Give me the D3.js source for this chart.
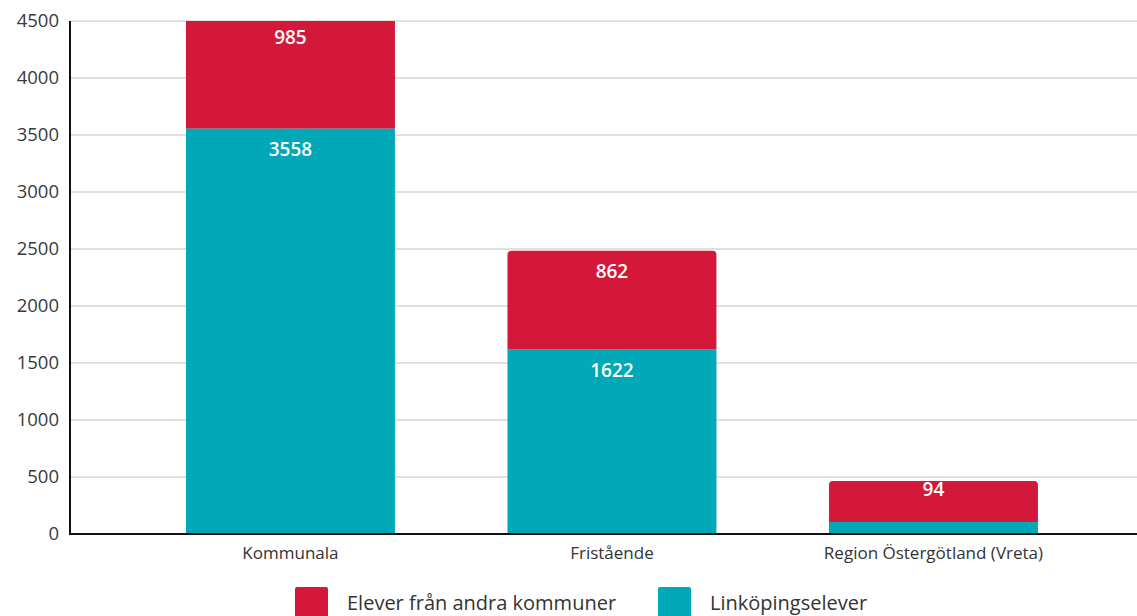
<!DOCTYPE html>
<html><head><meta charset="utf-8">
<script src="https://cdn.jsdelivr.net/npm/d3@7"></script>
<style>body{margin:0;background:#fff}svg{display:block}</style>
</head><body><svg id="c" width="1137" height="616"></svg>
<script>
const categories = ["Kommunala", "Fristående", "Region Östergötland (Vreta)"];
const linkopingselever = [3558, 1622, 105];
const andraKommuner = [985, 862, 360];
const linkopingLabels = ["3558", "1622", ""];
const andraLabels = ["985", "862", "94"];
const yTicks = [0, 500, 1000, 1500, 2000, 2500, 3000, 3500, 4000, 4500];
const seriesNames = ["Elever från andra kommuner", "Linköpingselever"];
const colors = {red: "#d4183a", teal: "#00a8b8"};

const svg = d3.select("#c");
const font = "'Open Sans', 'Noto Sans', sans-serif";
const y = d3.scaleLinear().domain([0, 4500]).range([534, 21]);
const x = d3.scaleBand().domain(categories).range([129.7, 1094.2]).paddingInner(0.35).paddingOuter(0.175);

svg.append("defs").append("clipPath").attr("id","plot")
  .append("rect").attr("x",70).attr("y",21).attr("width",1067).attr("height",513);

// gridlines
svg.append("g").selectAll("line").data(yTicks.filter(d=>d>0)).join("line")
  .attr("x1",71).attr("x2",1137).attr("y1",d=>y(d)).attr("y2",d=>y(d))
  .attr("stroke","#d6d6d6").attr("stroke-width",1.5);

// y tick labels
svg.append("g").selectAll("text").data(yTicks).join("text")
  .attr("x",59).attr("y",d=>y(d)).attr("dy","0.35em").attr("text-anchor","end")
  .attr("font-family",font).attr("font-size",18.5).attr("fill","#3a3a3a").text(d=>d);

const bars = svg.append("g").attr("clip-path","url(#plot)");
function topRoundedPath(x0, y0, w, h, r){
  r = Math.min(r, h, w/2);
  return `M${x0},${y0+h}V${y0+r}Q${x0},${y0} ${x0+r},${y0}H${x0+w-r}Q${x0+w},${y0} ${x0+w},${y0+r}V${y0+h}Z`;
}
categories.forEach((c,i)=>{
  const bw = x.bandwidth(), bx = x(c);
  const t = linkopingselever[i], r = andraKommuner[i];
  bars.append("rect").attr("x",bx).attr("y",y(t)).attr("width",bw).attr("height",y(0)-y(t)).attr("fill",colors.teal);
  bars.append("path").attr("d",topRoundedPath(bx, y(t+r), bw, y(t)-y(t+r), 4)).attr("fill",colors.red);
});

// value labels
const lab = svg.append("g").attr("font-family",font).attr("font-size",19).attr("font-weight",600)
  .attr("fill","#fff").attr("text-anchor","middle");
categories.forEach((c,i)=>{
  const cx = x(c)+x.bandwidth()/2;
  const t = linkopingselever[i], r = andraKommuner[i];
  lab.append("text").attr("x",cx).attr("y",Math.min(y(t+r)+21, y(t)-33)).attr("dy","0.35em").text(andraLabels[i]);
  lab.append("text").attr("x",cx).attr("y",Math.min(y(t)+21, y(0)-33)).attr("dy","0.35em").text(linkopingLabels[i]);
});

// axes lines
svg.append("line").attr("x1",70).attr("x2",70).attr("y1",21).attr("y2",535).attr("stroke","#111").attr("stroke-width",2);
svg.append("line").attr("x1",69).attr("x2",1137).attr("y1",534).attr("y2",534).attr("stroke","#111").attr("stroke-width",2);

// x labels
svg.append("g").selectAll("text").data(categories).join("text")
  .attr("x",d=>x(d)+x.bandwidth()/2).attr("y",553).attr("dy","0.35em").attr("text-anchor","middle")
  .attr("font-family",font).attr("font-size",17).attr("fill","#333").text(d=>d);

// legend
const leg = svg.append("g");
const legItems = [{name: seriesNames[0], color: colors.red, x: 295}, {name: seriesNames[1], color: colors.teal, x: 658}];
legItems.forEach(d=>{
  leg.append("rect").attr("x",d.x).attr("y",587).attr("width",33).attr("height",32).attr("rx",2).attr("fill",d.color);
  leg.append("text").attr("x",d.x+52).attr("y",603).attr("dy","0.35em")
    .attr("font-family",font).attr("font-size",20).attr("fill","#333").text(d.name);
});
</script></body></html>
